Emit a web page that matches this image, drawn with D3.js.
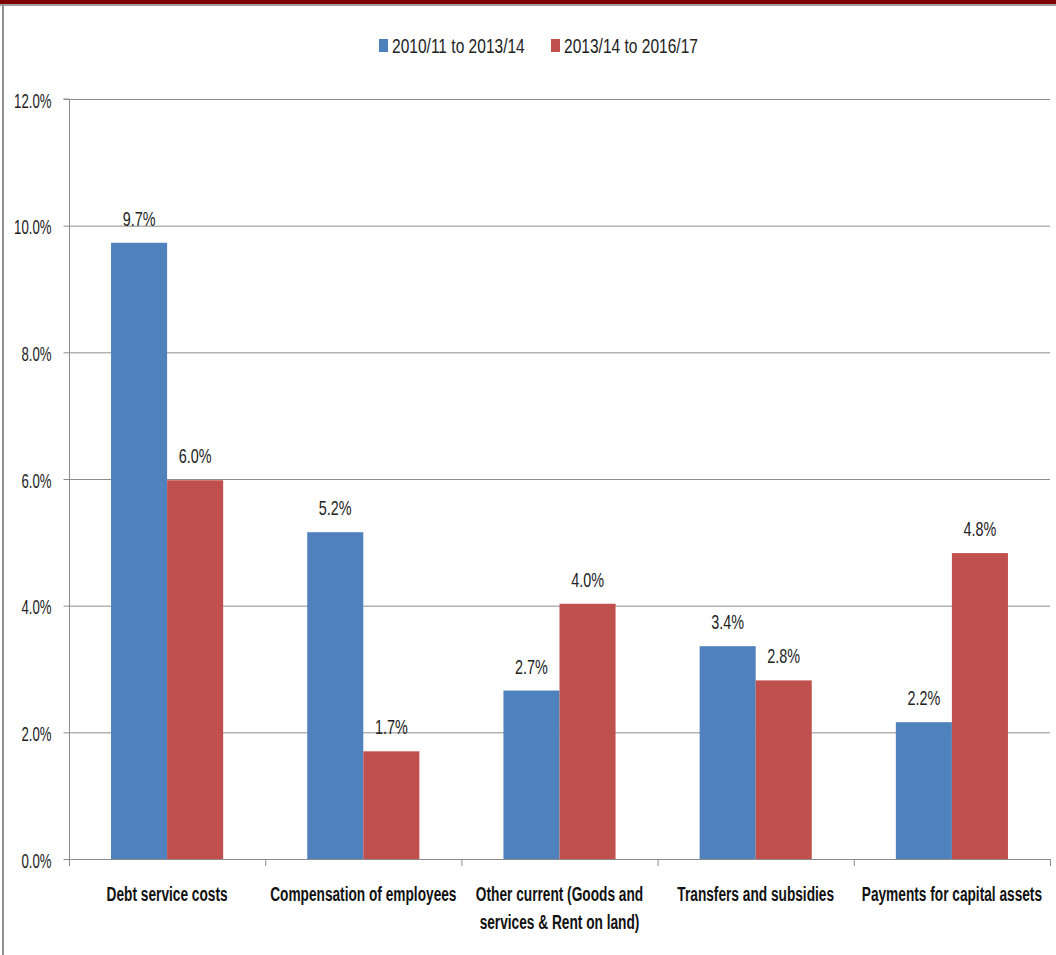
<!DOCTYPE html>
<html><head><meta charset="utf-8">
<script src="https://cdn.jsdelivr.net/npm/d3@7"></script>
<style>body{margin:0;background:#fff}svg{display:block}</style>
</head><body>
<svg id="c" width="1056" height="955"></svg>
<script>
const categories = ["Debt service costs","Compensation of employees","Other current (Goods and|services & Rent on land)","Transfers and subsidies","Payments for capital assets"];
const seriesNames = ["2010/11 to 2013/14","2013/14 to 2016/17"];
const series1 = [9.73, 5.16, 2.66, 3.36, 2.16];
const series2 = [5.98, 1.70, 4.03, 2.82, 4.83];
const yTicks = [0,2,4,6,8,10,12];
const colors = ["#4f81bd","#c0504d"];
const FONT = "'Liberation Sans',Arial,sans-serif";

function narrow(sel, sx){
  sel.each(function(){
    const t=d3.select(this);
    const x=+t.attr("x")||0, y=+t.attr("y")||0;
    t.attr("x",null).attr("y",null).attr("transform",`translate(${x},${y}) scale(${sx},1)`);
    t.selectAll("tspan").attr("x",0);
  });
}

const svg = d3.select("#c");
// frame
svg.append("rect").attr("x",0).attr("y",0).attr("width",1056).attr("height",4).attr("fill","#7f0000");
svg.append("rect").attr("x",0).attr("y",4).attr("width",1056).attr("height",2).attr("fill","#a0a0a0");
svg.append("rect").attr("x",2).attr("y",4).attr("width",2).attr("height",951).attr("fill","#909090");

const L=69, R=1050, T=99, B=859;
const x0 = d3.scaleBand().domain(d3.range(categories.length)).range([L,R]).paddingInner(0).paddingOuter(0);
const x1 = d3.scaleBand().domain([0,1]).range([0,x0.bandwidth()]).paddingOuter(0.75).paddingInner(0);
const y = d3.scaleLinear().domain([0,12]).range([B,T]);

// gridlines
svg.append("g").selectAll("line").data(yTicks.filter(d=>d>0)).join("line")
  .attr("x1",L).attr("x2",R).attr("y1",d=>y(d)+0.5).attr("y2",d=>y(d)+0.5)
  .attr("stroke","#8c8c8c").attr("stroke-width",1);

// y axis
const yAxis = d3.axisLeft(y).tickValues(yTicks).tickFormat(d=>d.toFixed(1)+"%").tickSize(6).tickPadding(12);
const gy = svg.append("g").attr("transform",`translate(${L+0.5},0)`).call(yAxis);
gy.select(".domain").attr("stroke","#8c8c8c").attr("d",`M-6,${T}H0V${B}`);
gy.selectAll(".tick line").attr("stroke","#8c8c8c");
gy.selectAll(".tick text").attr("font-family",FONT).attr("font-size",20).attr("fill","#222").attr("dy","0.4em").call(narrow,0.66);

// bars
const rows = categories.map((c,i)=>({i, vals:[series1[i],series2[i]]}));
const g = svg.append("g").selectAll("g").data(rows).join("g").attr("transform",d=>`translate(${x0(d.i)},0)`);
g.selectAll("rect").data(d=>d.vals.map((v,k)=>({v,k}))).join("rect")
  .attr("x",d=>x1(d.k)).attr("width",x1.bandwidth())
  .attr("y",d=>y(d.v)).attr("height",d=>B-y(d.v)).attr("fill",d=>colors[d.k]);
g.selectAll("text").data(d=>d.vals.map((v,k)=>({v,k}))).join("text")
  .attr("x",d=>x1(d.k)+x1.bandwidth()/2).attr("y",d=>y(d.v)-17)
  .attr("text-anchor","middle").attr("font-family",FONT).attr("font-size",20).attr("fill","#222")
  .text(d=>d.v.toFixed(1)+"%").call(narrow,0.72);

// x axis
const xAxis = d3.axisBottom(x0).tickSize(0).tickFormat("");
const gx = svg.append("g").attr("transform",`translate(0,${B+0.5})`).call(xAxis);
gx.select(".domain").attr("stroke","#8c8c8c").attr("d",`M${L},0H${R}`);
gx.selectAll(".tick").remove();
svg.append("g").selectAll("line").data(d3.range(categories.length+1)).join("line")
  .attr("x1",d=>L+d*x0.bandwidth()+0.5).attr("x2",d=>L+d*x0.bandwidth()+0.5)
  .attr("y1",B).attr("y2",B+7).attr("stroke","#8c8c8c");
svg.append("g").selectAll("text").data(categories).join("text")
  .attr("text-anchor","middle").attr("font-family",FONT).attr("font-size",20).attr("font-weight","bold").attr("fill","#111")
  .attr("x",(d,i)=>x0(i)+x0.bandwidth()/2).attr("y",901)
  .each(function(d){
    const t=d3.select(this);
    d.split("|").forEach((s,j)=>t.append("tspan").attr("dy",j?28:0).text(s));
  }).call(narrow,0.685);

// legend
const leg = svg.append("g");
const legX=[379,551];
seriesNames.forEach((s,k)=>{
  leg.append("rect").attr("x",legX[k]).attr("y",39).attr("width",9).attr("height",13).attr("fill",colors[k]);
  leg.append("text").attr("x",legX[k]+13).attr("y",53).attr("font-family",FONT).attr("font-size",21).attr("fill","#222").text(s).call(narrow,0.74);
});
</script>
</body></html>
